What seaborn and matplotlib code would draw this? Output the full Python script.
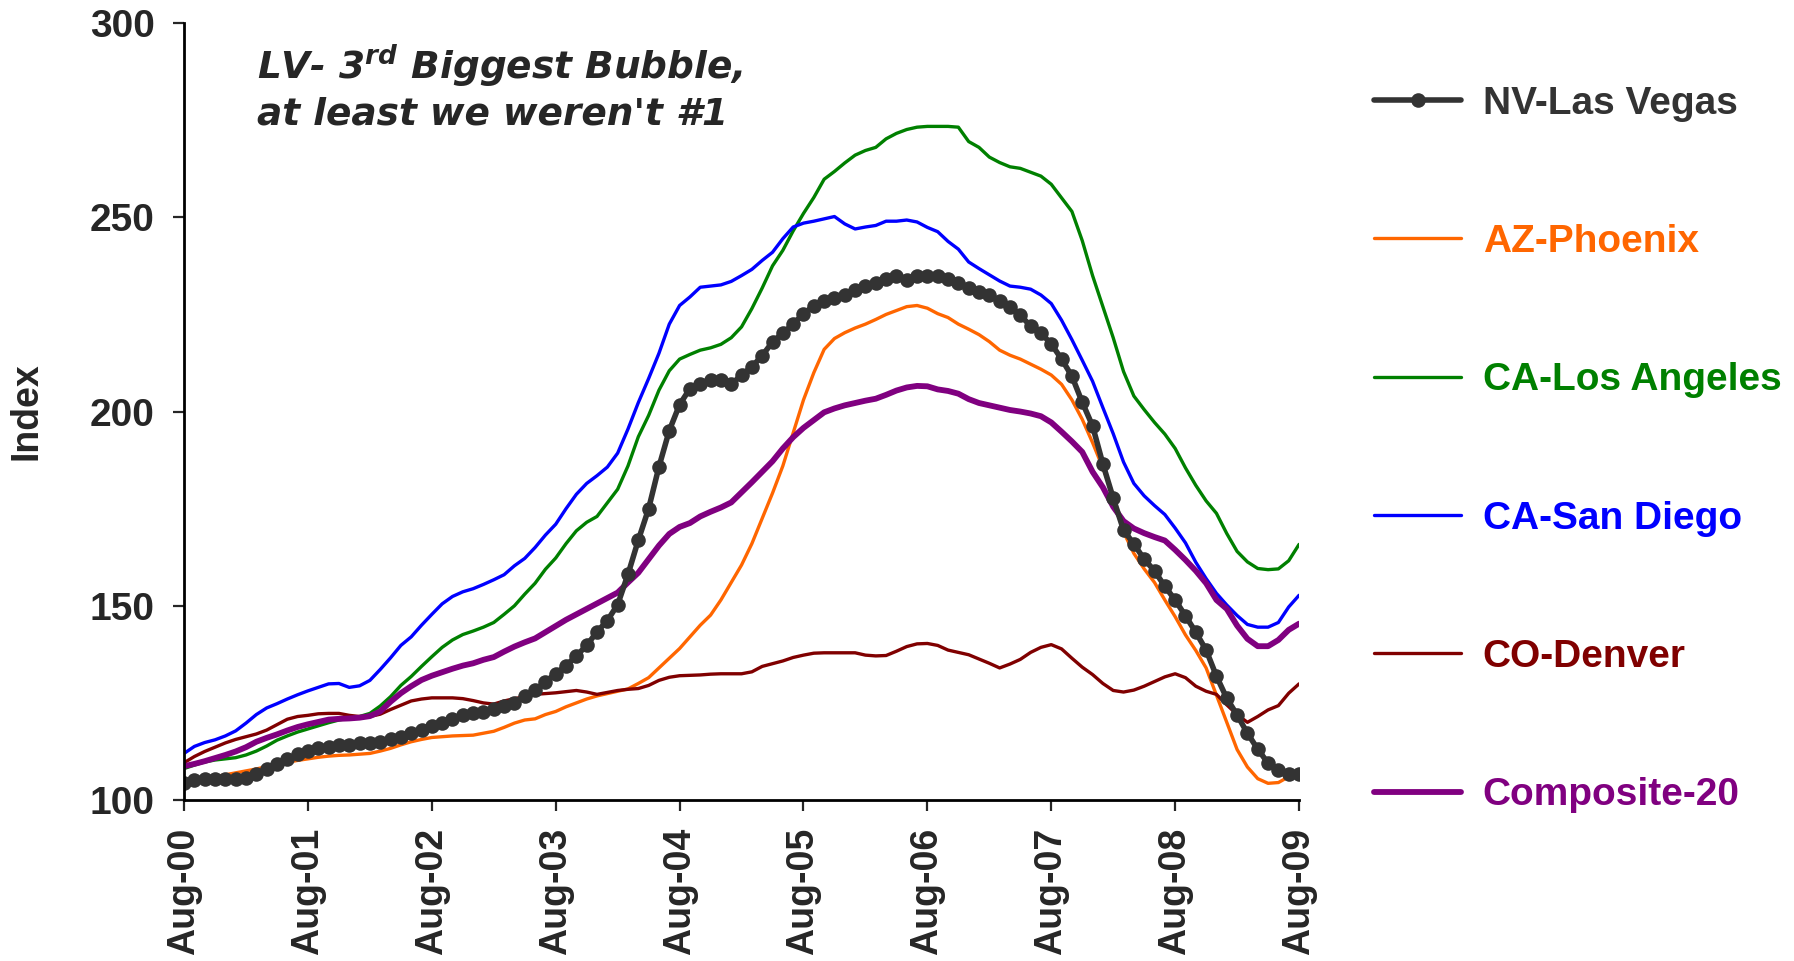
import numpy as np
import pandas as pd
import matplotlib
matplotlib.use("Agg")
import matplotlib.pyplot as plt
import seaborn as sns

# ---------------- data (monthly, Aug-2000 .. Aug-2009) ----------------
tick_labels = ["Aug-00", "Aug-01", "Aug-02", "Aug-03", "Aug-04",
               "Aug-05", "Aug-06", "Aug-07", "Aug-08", "Aug-09"]

las_vegas = [104.3, 105.1, 105.3, 105.3, 105.3, 105.3, 105.6, 106.7, 107.9, 109.4,
             110.5, 111.8, 112.7, 113.3, 113.7, 114.2, 114.2, 114.6, 114.8, 115.0,
             115.6, 116.3, 117.2, 118.0, 119.0, 119.9, 120.8, 121.9, 122.3, 122.7,
             123.5, 124.1, 125.0, 126.7, 128.2, 130.5, 132.5, 134.6, 137.1, 139.8,
             143.3, 146.2, 150.3, 158.1, 166.9, 175.0, 185.8, 195.1, 201.8, 205.9,
             207.0, 208.0, 208.0, 207.0, 209.4, 211.5, 214.4, 217.9, 220.2, 222.5,
             225.2, 227.2, 228.4, 229.2, 230.1, 231.3, 232.4, 233.0, 234.2, 234.8,
             233.8, 234.8, 234.8, 234.8, 234.0, 233.0, 231.8, 230.7, 229.9, 228.4,
             226.9, 224.8, 222.0, 220.2, 217.4, 213.5, 209.1, 202.4, 196.3, 186.5,
             177.7, 169.5, 165.9, 162.0, 159.0, 155.0, 151.5, 147.4, 143.2, 138.6,
             131.9, 126.2, 121.9, 117.2, 113.1, 109.5, 107.7, 106.7, 106.7]

phoenix = [104.5, 105.0, 105.5, 106.0, 106.5, 107.0, 107.5, 108.0, 108.6, 109.2,
           109.7, 110.2, 110.6, 111.0, 111.3, 111.5, 111.6, 111.8, 112.0, 112.6,
           113.3, 114.2, 115.0, 115.6, 116.1, 116.3, 116.5, 116.6, 116.7, 117.2,
           117.7, 118.7, 119.8, 120.6, 120.9, 122.0, 122.8, 124.0, 125.0, 126.0,
           126.8, 127.4, 128.0, 128.6, 130.0, 131.5, 134.0, 136.5, 139.0, 142.0,
           145.0, 147.6, 151.5, 156.0, 160.5, 166.0, 172.5, 179.0, 186.0, 194.5,
           203.0, 210.0, 216.0, 218.8, 220.3, 221.5, 222.5, 223.7, 225.0, 226.0,
           227.0, 227.3, 226.6, 225.2, 224.2, 222.5, 221.2, 219.8, 218.0, 215.8,
           214.5, 213.5, 212.2, 210.9, 209.4, 207.0, 203.0, 198.0, 192.0, 185.5,
           178.5, 169.0, 163.5, 159.5, 156.0, 151.5, 147.2, 142.5, 138.5, 134.0,
           127.0, 120.0, 113.0, 108.5, 105.5, 104.3, 104.5, 106.0, 107.5]

los_angeles = [108.1, 109.0, 109.8, 110.3, 110.6, 110.9, 111.6, 112.6, 113.9, 115.4,
               116.5, 117.5, 118.3, 119.1, 119.9, 120.6, 121.1, 121.5, 122.3, 124.2,
               126.6, 129.5, 131.8, 134.4, 136.9, 139.3, 141.2, 142.6, 143.5, 144.5,
               145.7, 147.8, 150.0, 153.0, 155.8, 159.4, 162.3, 166.0, 169.3, 171.5,
               173.0, 176.5, 180.0, 186.0, 193.5, 199.0, 205.5, 210.5, 213.5, 214.7,
               215.8, 216.4, 217.3, 219.0, 221.8, 226.5, 231.8, 237.5, 241.5, 246.5,
               251.0, 255.1, 259.8, 261.8, 264.0, 266.0, 267.2, 268.0, 270.2, 271.6,
               272.6, 273.2, 273.4, 273.4, 273.4, 273.2, 269.5, 268.0, 265.5, 264.1,
               263.0, 262.6, 261.6, 260.6, 258.5, 255.0, 251.5, 244.0, 235.0, 227.0,
               219.0, 210.3, 204.0, 200.5, 197.2, 194.2, 190.5, 185.5, 181.0, 177.0,
               173.8, 168.6, 164.0, 161.3, 159.6, 159.3, 159.5, 161.6, 165.8]

san_diego = [112.0, 113.8, 114.8, 115.5, 116.5, 117.8, 119.8, 122.0, 123.7, 124.8,
             126.0, 127.1, 128.1, 129.0, 129.9, 130.0, 129.0, 129.4, 130.8, 133.6,
             136.6, 139.8, 142.0, 145.0, 147.8, 150.5, 152.4, 153.6, 154.4, 155.5,
             156.7, 158.0, 160.3, 162.2, 165.0, 168.2, 171.0, 175.0, 178.7, 181.5,
             183.5, 185.7, 189.3, 195.5, 202.3, 208.5, 215.0, 222.5, 227.3, 229.5,
             232.0, 232.3, 232.6, 233.5, 235.0, 236.6, 238.9, 241.0, 244.5, 247.5,
             248.5, 249.0, 249.6, 250.2, 248.3, 247.0, 247.5, 247.9, 249.0, 249.0,
             249.3, 248.8, 247.4, 246.3, 243.8, 241.8, 238.5, 236.8, 235.2, 233.6,
             232.3, 232.0, 231.5, 230.0, 227.8, 223.5, 218.5, 213.2, 207.8, 201.0,
             194.3, 187.0, 181.5, 178.3, 175.8, 173.5, 170.0, 166.2, 161.2, 157.0,
             153.2, 150.2, 147.5, 145.2, 144.5, 144.5, 145.7, 149.7, 152.7]

denver = [109.6, 111.2, 112.5, 113.6, 114.7, 115.6, 116.3, 117.0, 118.0, 119.4,
          120.8, 121.5, 121.8, 122.2, 122.3, 122.3, 121.8, 121.5, 121.5, 122.1,
          123.3, 124.4, 125.5, 126.0, 126.3, 126.3, 126.3, 126.1, 125.6, 125.0,
          124.7, 125.5, 126.1, 126.6, 127.2, 127.4, 127.6, 127.9, 128.2, 127.8,
          127.2, 127.7, 128.2, 128.5, 128.7, 129.5, 130.8, 131.6, 132.0, 132.1,
          132.2, 132.4, 132.5, 132.5, 132.5, 133.0, 134.4, 135.1, 135.8, 136.7,
          137.3, 137.8, 137.9, 137.9, 137.9, 137.9, 137.3, 137.1, 137.2, 138.3,
          139.5, 140.2, 140.3, 139.8, 138.6, 138.0, 137.4, 136.3, 135.2, 134.0,
          135.0, 136.2, 138.0, 139.3, 140.0, 138.9, 136.5, 134.2, 132.3, 130.0,
          128.2, 127.8, 128.3, 129.3, 130.5, 131.7, 132.5, 131.5, 129.3, 128.0,
          127.2, 124.5, 122.0, 120.0, 121.5, 123.2, 124.3, 127.5, 129.9]

composite_20 = [108.7, 109.3, 110.0, 110.8, 111.6, 112.5, 113.6, 115.0, 116.0, 116.9,
                117.9, 118.8, 119.5, 120.1, 120.7, 120.9, 121.0, 121.2, 121.6, 122.8,
                125.3, 127.5, 129.3, 130.9, 132.0, 132.9, 133.8, 134.6, 135.2, 136.1,
                136.8, 138.2, 139.5, 140.6, 141.6, 143.2, 144.8, 146.4, 147.8, 149.2,
                150.6, 152.0, 153.4, 156.0, 158.5, 162.0, 165.5, 168.5, 170.3, 171.3,
                173.0, 174.2, 175.3, 176.6, 179.2, 181.8, 184.5, 187.2, 190.5, 193.4,
                195.8, 197.8, 199.8, 200.8, 201.6, 202.2, 202.8, 203.3, 204.3, 205.4,
                206.2, 206.6, 206.5, 205.7, 205.3, 204.6, 203.2, 202.2, 201.6, 201.0,
                200.4, 200.0, 199.5, 198.8, 197.2, 194.8, 192.3, 189.6, 184.5, 180.5,
                175.5, 171.8, 169.9, 168.7, 167.7, 166.8, 164.4, 161.8, 159.0, 155.8,
                151.5, 149.2, 144.9, 141.5, 139.6, 139.6, 141.2, 143.8, 145.4]

series_names = ["NV-Las Vegas", "AZ-Phoenix", "CA-Los Angeles",
                "CA-San Diego", "CO-Denver", "Composite-20"]

# ---------------- styling ----------------
sns.set_style("white")
plt.rcParams["font.family"] = ["Liberation Sans", "DejaVu Sans"]
plt.rcParams["font.weight"] = "bold"

month_idx = np.arange(len(las_vegas))
df = pd.DataFrame({
    "month": month_idx,
    "NV-Las Vegas": las_vegas,
    "AZ-Phoenix": phoenix,
    "CA-Los Angeles": los_angeles,
    "CA-San Diego": san_diego,
    "CO-Denver": denver,
    "Composite-20": composite_20,
})

colors = {
    "NV-Las Vegas": "#333333",
    "AZ-Phoenix": "#FF6600",
    "CA-Los Angeles": "#008000",
    "CA-San Diego": "#0000FF",
    "CO-Denver": "#800000",
    "Composite-20": "#800080",
}
widths = {
    "NV-Las Vegas": 4.0,
    "AZ-Phoenix": 2.4,
    "CA-Los Angeles": 2.4,
    "CA-San Diego": 2.4,
    "CO-Denver": 2.4,
    "Composite-20": 4.2,
}

fig = plt.figure(figsize=(17.94, 9.61), dpi=100)
fig.patch.set_facecolor("white")
ax = fig.add_axes([0.1026, 0.1675, 0.6215, 0.8085])

handles = {}
draw_order = ["AZ-Phoenix", "CA-Los Angeles", "CA-San Diego", "CO-Denver",
              "Composite-20", "NV-Las Vegas"]
for name in draw_order:
    kw = dict(color=colors[name], linewidth=widths[name])
    if name == "NV-Las Vegas":
        kw.update(marker="o", markersize=10.5, markeredgewidth=0,
                  markerfacecolor="#333333")
    sns.lineplot(data=df, x="month", y=name, ax=ax, legend=False, **kw)
    handles[name] = ax.lines[-1]

ax.set_xlim(0, len(las_vegas) - 1)
ax.set_ylim(100, 300)
ax.set_yticks([100, 150, 200, 250, 300])
ax.set_xticks(np.arange(0, len(las_vegas), 12))
ax.set_xticklabels(tick_labels, rotation=90, fontsize=27, fontweight="bold")
ax.tick_params(axis="y", labelsize=28, direction="out", length=8, width=1.6,
               pad=13, left=True)
ax.tick_params(axis="x", direction="out", length=8, width=1.6, pad=12,
               bottom=True)
for lab in ax.get_yticklabels():
    lab.set_fontweight("bold")
ax.set_xlabel("")
ax.set_ylabel("Index", fontsize=27, fontweight="bold")
ax.yaxis.set_label_coords(-0.125, 0.5)

for s in ["top", "right"]:
    ax.spines[s].set_visible(False)
for s in ["left", "bottom"]:
    ax.spines[s].set_color("black")
    ax.spines[s].set_linewidth(2.0)

# annotation
fig.text(0.1433, 0.955,
         "LV- 3$^{\\mathregular{rd}}$ Biggest Bubble,\nat least we weren't #1",
         fontsize=27, fontstyle="italic", fontweight="bold",
         family=["DejaVu Sans"], va="top", ha="left", linespacing=1.22)

leg = fig.legend([handles[n] for n in series_names], series_names,
                 loc="upper left", bbox_to_anchor=(0.755, 0.931),
                 frameon=False, fontsize=28, handlelength=2.25,
                 handletextpad=0.55, labelspacing=2.63, borderpad=0,
                 labelcolor=[colors[n] for n in series_names])
for t in leg.get_texts():
    t.set_fontweight("bold")

fig.savefig("out.png", dpi=100, facecolor="white")
